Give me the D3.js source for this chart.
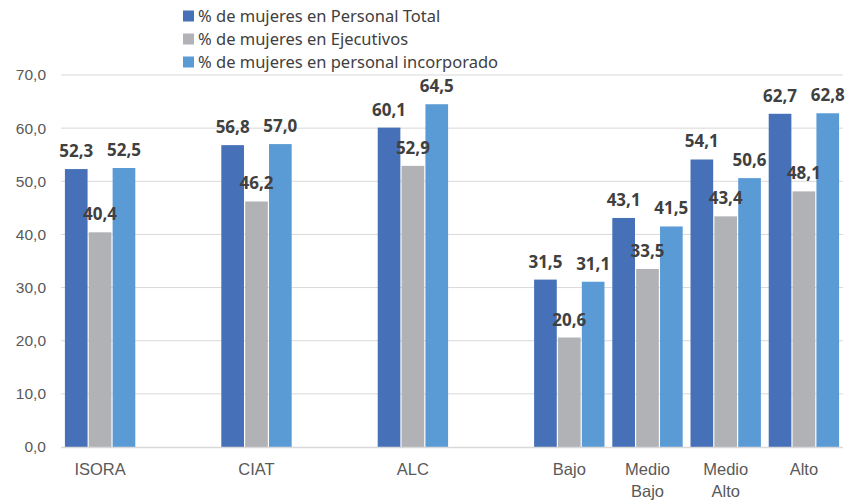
<!DOCTYPE html>
<html>
<head>
<meta charset="utf-8">
<script src="https://cdn.jsdelivr.net/npm/d3@7"></script>
<style>
  body { margin: 0; background: #fff; }
  svg { font-family: "Noto Sans", sans-serif; }
  .y-axis .tick text { fill: #595959; font-size: 15.5px; }
  .x-label { fill: #595959; font-size: 16.5px; }
  .value-label { fill: #404040; font-size: 17px; font-weight: bold; }
  .legend text { fill: #404040; font-size: 16.5px; }
</style>
</head>
<body>
<div id="chart"></div>
<script>
// categories (empty slots are the gaps between groups)
const categories = ['ISORA', '', 'CIAT', '', 'ALC', '', 'Bajo', 'Medio Bajo', 'Medio Alto', 'Alto'];
const seriesNames = [
  '% de mujeres en Personal Total',
  '% de mujeres en Ejecutivos',
  '% de mujeres en personal incorporado'
];
const personalTotal = [52.3, null, 56.8, null, 60.1, null, 31.5, 43.1, 54.1, 62.7];
const ejecutivos    = [40.4, null, 46.2, null, 52.9, null, 20.6, 33.5, 43.4, 48.1];
const incorporado   = [52.5, null, 57.0, null, 64.5, null, 31.1, 41.5, 50.6, 62.8];
const yTicks = [0, 10, 20, 30, 40, 50, 60, 70];
const colors = ['#4670B8', '#B1B2B6', '#5B9BD5'];

const svgWidth = 846;
const svgHeight = 501;
const margin = { top: 75, right: 3, bottom: 54, left: 61 };
const innerWidth = svgWidth - margin.left - margin.right;
const innerHeight = svgHeight - margin.top - margin.bottom;

const svg = d3.select('#chart').append('svg')
  .attr('width', svgWidth)
  .attr('height', svgHeight);

const g = svg.append('g')
  .attr('transform', `translate(${margin.left},${margin.top})`);

const series = [personalTotal, ejecutivos, incorporado];
const fmt = v => d3.format('.1f')(v).replace('.', ',');

const xScale = d3.scaleBand()
  .domain(d3.range(categories.length))
  .range([0, innerWidth])
  .paddingInner(0.1)
  .paddingOuter(0.05);

const xSub = d3.scaleBand()
  .domain(d3.range(series.length))
  .range([0, xScale.bandwidth()])
  .paddingInner(0.05);

const yScale = d3.scaleLinear()
  .domain([0, 70])
  .range([innerHeight, 0]);

// gridlines
g.append('g')
  .selectAll('line').data(yTicks.filter(t => t > 0))
  .enter().append('line')
    .attr('x1', 0).attr('x2', innerWidth)
    .attr('y1', d => yScale(d)).attr('y2', d => yScale(d))
    .attr('stroke', '#d9d9d9')
    .attr('stroke-width', 1);

// y axis
const yAxisG = g.append('g')
  .attr('class', 'y-axis')
  .call(d3.axisLeft(yScale).tickValues(yTicks).tickSize(0).tickPadding(15)
    .tickFormat(fmt));
yAxisG.select('.domain').remove();

// flat list of bar values
const bars = [];
categories.forEach((c, i) => {
  series.forEach((s, k) => {
    if (s[i] != null) bars.push({ i, k, v: s[i] });
  });
});

g.append('g').selectAll('rect').data(bars)
  .enter().append('rect')
    .attr('x', d => xScale(d.i) + xSub(d.k))
    .attr('y', d => yScale(d.v))
    .attr('width', xSub.bandwidth())
    .attr('height', d => innerHeight - yScale(d.v))
    .attr('fill', d => colors[d.k]);

// x axis
const xAxisG = g.append('g')
  .attr('transform', `translate(0,${innerHeight})`)
  .call(d3.axisBottom(xScale).tickSize(0).tickFormat(''));
xAxisG.select('.domain')
  .attr('stroke', '#d9d9d9')
  .attr('stroke-width', 1.5)
  .attr('d', `M0,0.5H${innerWidth}`);
xAxisG.selectAll('.tick text').remove();

xAxisG.selectAll('.tick').each(function(i) {
  const words = categories[i].split(' ').filter(w => w);
  if (!words.length) return;
  const t = d3.select(this).append('text')
    .attr('class', 'x-label')
    .attr('text-anchor', 'middle');
  words.forEach((w, j) => {
    t.append('tspan')
      .attr('x', 0)
      .attr('y', 28 + j * 22)
      .text(w);
  });
});

// value labels on top of everything
g.append('g').selectAll('text').data(bars)
  .enter().append('text')
    .attr('class', 'value-label')
    .attr('x', d => xScale(d.i) + xSub(d.k) + xSub.bandwidth() / 2)
    .attr('y', d => yScale(d.v) - 12)
    .attr('text-anchor', 'middle')
    .text(d => fmt(d.v));

// legend
const legend = svg.append('g')
  .attr('class', 'legend')
  .attr('transform', 'translate(183,16)');

seriesNames.forEach((name, k) => {
  const row = legend.append('g')
    .attr('transform', `translate(0,${k * 23})`);
  row.append('rect')
    .attr('x', 0).attr('y', -5.5)
    .attr('width', 11).attr('height', 11)
    .attr('fill', colors[k]);
  row.append('text')
    .attr('x', 15)
    .attr('y', 6)
    .text(name);
});
</script>
</body>
</html>
